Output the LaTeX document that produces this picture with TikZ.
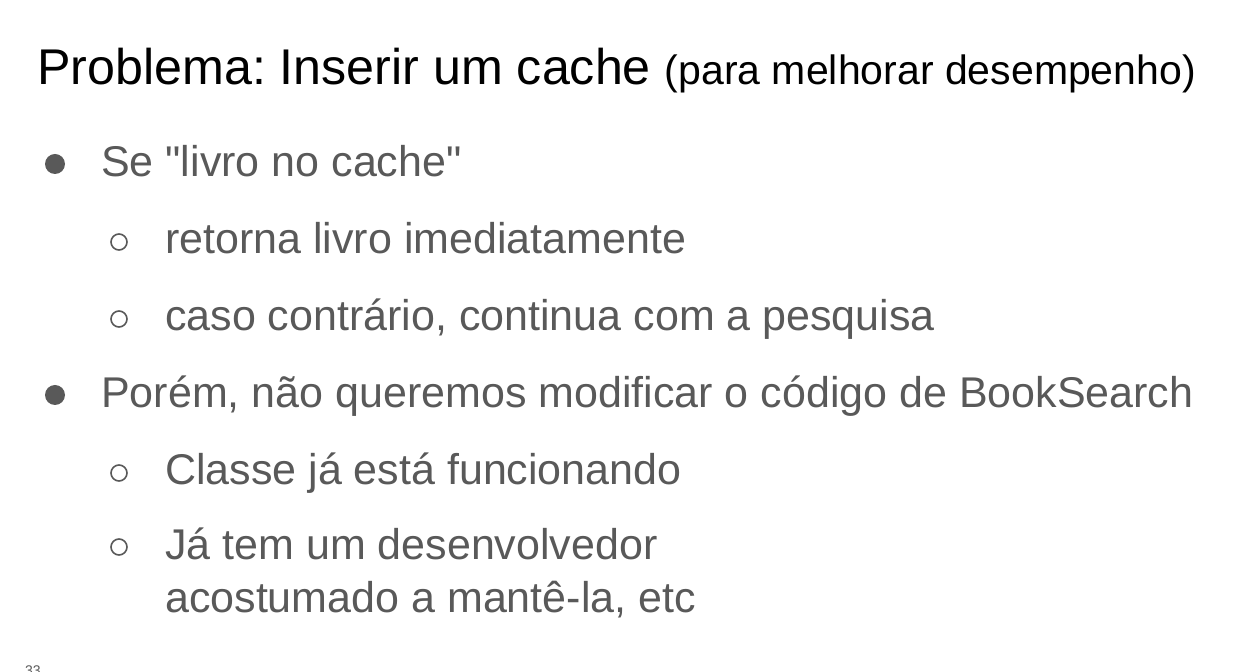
\documentclass[tikz,border=0pt]{standalone}
\usepackage{fontspec}
\newfontfamily\slidefont{Liberation Sans}
\begin{document}
\frenchspacing
\begin{tikzpicture}[x=1pt,y=1pt,
  txt/.style={anchor=base west,inner sep=0pt,text=textgray,font=\slidefont\fontsize{43}{50}\selectfont},
  ttl/.style={anchor=base west,inner sep=0pt,text=black},
  dotb/.style={fill=textgray,draw=none},
  ringb/.style={draw=textgray,line width=1.6pt}]
\definecolor{textgray}{HTML}{595959}
\useasboundingbox (0,0) rectangle (1253,672);
\fill[white] (0,0) rectangle (1253,672);
% title
\node[ttl,font=\slidefont\fontsize{50.2}{60}\selectfont] (title) at (37,672-85) {Problema: Inserir um cache \fontsize{41}{46}\selectfont(para melhorar desempenho)};
% level 1 bullets
\fill[dotb] (55,672-164) circle (10) coordinate (b1);
\node[txt] (t1) at (101,672-177) {Se "livro no cache"};
\draw[ringb] (119,672-242) circle (8) coordinate (c1);
\node[txt] (t2) at (165,672-254) {retorna livro imediatamente};
\draw[ringb] (119,672-319) circle (8) coordinate (c2);
\node[txt] (t3) at (165,672-331) {caso contrário, continua com a pesquisa};
\fill[dotb] (55,672-395) circle (10) coordinate (b2);
\node[txt] (t4) at (101,672-408) {Porém, não queremos modificar o código de BookSearch};
\draw[ringb] (119,672-473) circle (8) coordinate (c3);
\node[txt] (t5) at (165,672-485) {Classe já está funcionando};
\draw[ringb] (119,672-547) circle (8) coordinate (c4);
\node[txt] (t6) at (165,672-560) {Já tem um desenvolvedor};
\node[txt] (t7) at (165,672-613) {acostumado a mantê-la, etc};
\node[anchor=base west,inner sep=0pt,text=textgray,font=\slidefont\fontsize{14}{16}\selectfont] (pg) at (25,672-676) {33};
\end{tikzpicture}
\end{document}
